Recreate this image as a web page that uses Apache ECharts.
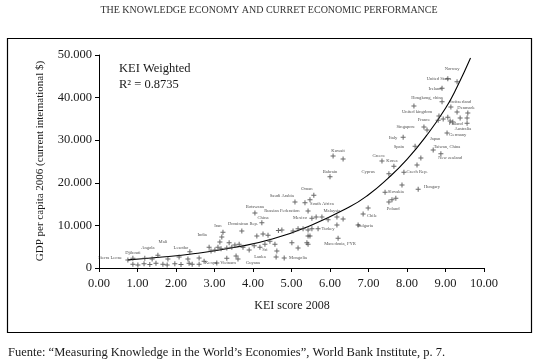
<!DOCTYPE html>
<html><head><meta charset="utf-8">
<script src="https://cdn.jsdelivr.net/npm/echarts/dist/echarts.min.js"></script>
<style>html,body{margin:0;padding:0;background:#fff}#c{width:538px;height:362px}</style>
</head><body><div id="c"></div>
<script>
// KEI score 2008 (x) and GDP per capita 2006 (y) for every plotted country
const pointKEI = [9.30,9.06,8.91,8.91,8.18,9.14,9.30,9.58,8.83,8.81,8.94,9.06,9.12,9.19,9.38,9.56,9.56,8.44,8.52,9.04,
  7.90,8.21,8.68,8.88,8.36,8.26,7.35,7.66,7.92,7.53,7.87,7.43,8.29,7.53,7.61,7.71,
  6.08,6.34,6.00,5.58,5.09,5.35,5.48,5.43,6.18,6.34,5.53,5.64,5.79,5.95,6.99,6.86,6.73,
  5.69,5.53,5.43,5.30,5.17,5.04,4.75,4.66,5.43,5.48,5.40,5.43,5.17,5.01,6.18,6.21,
  4.05,4.23,3.22,3.19,3.14,3.71,4.10,4.26,4.39,
  2.86,2.91,3.01,3.09,3.17,3.32,3.38,3.45,3.53,3.64,3.74,3.90,4.03,4.18,4.31,4.44,4.57,4.62,4.60,4.81,
  3.56,3.61,2.60,2.73,3.06,3.32,
  0.88,1.01,1.17,1.32,1.48,1.66,1.77,1.97,2.13,2.34,2.42,2.60,
  0.75,0.88,1.19,1.38,1.53,1.79,2.08,2.31,2.36];
const pointGDP = [43700,44400,42200,39000,38000,37800,36600,36400,35700,34700,35000,35400,34500,34300,35200,35200,34000,33100,32400,31700,
  30700,28600,27700,26800,25800,24200,25100,23900,22500,22100,19500,17800,18500,15500,16000,16400,
  26300,25600,21400,17100,15500,15300,16000,13400,12000,11500,11700,12000,12000,11300,14100,12700,10100,
  9200,9200,8900,9200,9200,8700,8900,8800,7500,7500,5900,5600,4700,5900,10100,7000,
  12900,10600,8400,7300,6100,8700,7500,8000,7700,
  4900,4000,4200,4900,4500,4700,5900,4900,5400,5600,4900,4200,5200,4900,5600,6300,5600,4000,2600,2350,
  2800,2100,2350,1600,1200,2300,
  900,700,1000,800,1100,900,700,1000,800,1100,900,900,
  1900,2300,2300,2100,3000,2100,2600,2100,3800];

// country name annotations (placed where they are printed)
const labelNames = ['Norway','United States','Ireland','Hongkong, china','Switzerland','Denmark','United kingdom','France','Finland','Australia',
  'Singapore','Germany','Italy','Japan','Spain','Taiwan, China','New zealand','Korea','Czech Rep.','Slovakia','Hungary','Poland',
  'Greece','Cyprus','Kuwait','Bahrain','Oman','Saudi Arabia','South Africa','Russian Federation','Malaysia','Mexico','Chile',
  'Bulgaria','Turkey','Macedonia, FYR','Botswana','China','Dominican Rep.','Iran','India','Sri','Lanka','Guyana','Mongolia',
  'Kenya','Vietnam','Lesotho','Mali','Angola','Djibouti','Sierra Leone'];
const labelKEI = [9.17,8.83,8.73,8.52,9.38,9.53,8.26,8.44,9.27,9.45,
  7.97,9.32,7.64,8.73,7.79,9.04,9.12,7.61,8.26,7.71,8.65,7.64,
  7.27,6.99,6.21,6.00,5.40,4.75,5.79,4.75,6.05,5.22,7.09,
  6.91,5.95,6.26,4.05,4.26,3.74,3.09,2.68,4.31,4.18,4.00,5.17,
  2.91,3.35,2.13,1.66,1.27,0.88,0.29];
const labelGDP = [46700,44400,42000,39900,39000,37600,36600,34700,33800,32600,
  33100,31200,30500,30300,28400,28400,25800,25100,22500,17800,19000,13800,
  26300,22500,27500,22500,18500,16900,15000,13400,13400,11700,12200,
  9900,9200,5600,14300,11700,10300,9900,7700,4200,2600,1200,2300,
  1200,1200,4700,6100,4700,3500,2300];

// exponential trend line ("KEI Weighted")
const trendKEI = [0.75,1.5,2.5,3.5,4.5,5.5,6.5,7.0,7.5,8.0,8.5,9.0,9.3,9.65];
const trendGDP = [1900,2450,3400,4800,6800,10000,14300,17200,21000,25500,31000,37500,42500,49300];

const xTickLabels = ['0.00','1.00','2.00','3.00','4.00','5.00','6.00','7.00','8.00','9.00','10.00'];
const yTickLabels = ['0','10.000','20.000','30.000','40.000','50.000'];

const serif = '"Liberation Serif", "DejaVu Serif", serif';
const chart = echarts.init(document.getElementById('c'), null, {renderer: 'canvas'});
const plus = 'path://M4,0H6V4H10V6H6V10H4V6H0V4H4Z';

chart.setOption({
  animation: false,
  backgroundColor: '#fff',
  grid: {left: 99, right: 54, top: 55, bottom: 94},
  xAxis: {
    type: 'value', min: 0, max: 10, interval: 1,
    axisLine: {lineStyle: {color: '#000', width: 1}},
    axisTick: {show: true, length: 4, inside: false, lineStyle: {color: '#000'}},
    splitLine: {show: false},
    axisLabel: {margin: 9, color: '#1a1a1a', fontFamily: serif, fontSize: 12.5,
      formatter: v => xTickLabels[Math.round(v)]}
  },
  yAxis: {
    type: 'value', min: 0, max: 50000, interval: 10000,
    axisLine: {show: true, lineStyle: {color: '#000', width: 1}},
    axisTick: {show: true, length: 4, lineStyle: {color: '#000'}},
    splitLine: {show: false},
    axisLabel: {margin: 7, color: '#1a1a1a', fontFamily: serif, fontSize: 12.5,
      formatter: v => yTickLabels[Math.round(v / 10000)]}
  },
  series: [
    {
      type: 'scatter', symbol: plus, symbolSize: 5,
      itemStyle: {color: '#444'},
      data: pointKEI.map((x, i) => [x, pointGDP[i]]),
      z: 3
    },
    {
      type: 'line', smooth: true, symbol: 'none',
      lineStyle: {color: '#000', width: 1.1},
      data: trendKEI.map((x, i) => [x, trendGDP[i]]),
      z: 2
    },
    {
      type: 'scatter', symbolSize: 0, silent: true,
      data: labelNames.map((n, i) => ({name: n, value: [labelKEI[i], labelGDP[i]]})),
      label: {show: true, position: 'inside', formatter: p => p.name,
        fontFamily: serif, fontSize: 4.6, color: '#222'},
      z: 4
    }
  ],
  graphic: [
    {type: 'rect', shape: {x: 7.5, y: 38.5, width: 524, height: 294}, style: {fill: 'none', stroke: '#000', lineWidth: 1.2}, silent: true},
    {type: 'text', x: 269, y: 10, style: {text: 'THE KNOWLEDGE ECONOMY AND CURRET ECONOMIC PERFORMANCE', font: '10px ' + serif, fill: '#333', textAlign: 'center', textVerticalAlign: 'middle'}},
    {type: 'text', x: 119, y: 69, style: {text: 'KEI Weighted', font: '12.5px ' + serif, fill: '#1a1a1a', textAlign: 'left', textVerticalAlign: 'middle'}},
    {type: 'text', x: 119, y: 85, style: {text: 'R² = 0.8735', font: '12.5px ' + serif, fill: '#1a1a1a', textAlign: 'left', textVerticalAlign: 'middle'}},
    {type: 'text', x: 292, y: 306, style: {text: 'KEI score 2008', font: '12px ' + serif, fill: '#1a1a1a', textAlign: 'center', textVerticalAlign: 'middle'}},
    {type: 'text', x: 40, y: 161, rotation: Math.PI / 2, style: {text: 'GDP per capita 2006 (current international $)', font: '11px ' + serif, fill: '#1a1a1a', textAlign: 'center', textVerticalAlign: 'middle'}},
    {type: 'text', x: 8, y: 353, style: {text: 'Fuente: “Measuring Knowledge in the World’s Economies”, World Bank Institute, p. 7.', font: '12.5px ' + serif, fill: '#1a1a1a', textAlign: 'left', textVerticalAlign: 'middle'}}
  ]
});
</script>
</body></html>
